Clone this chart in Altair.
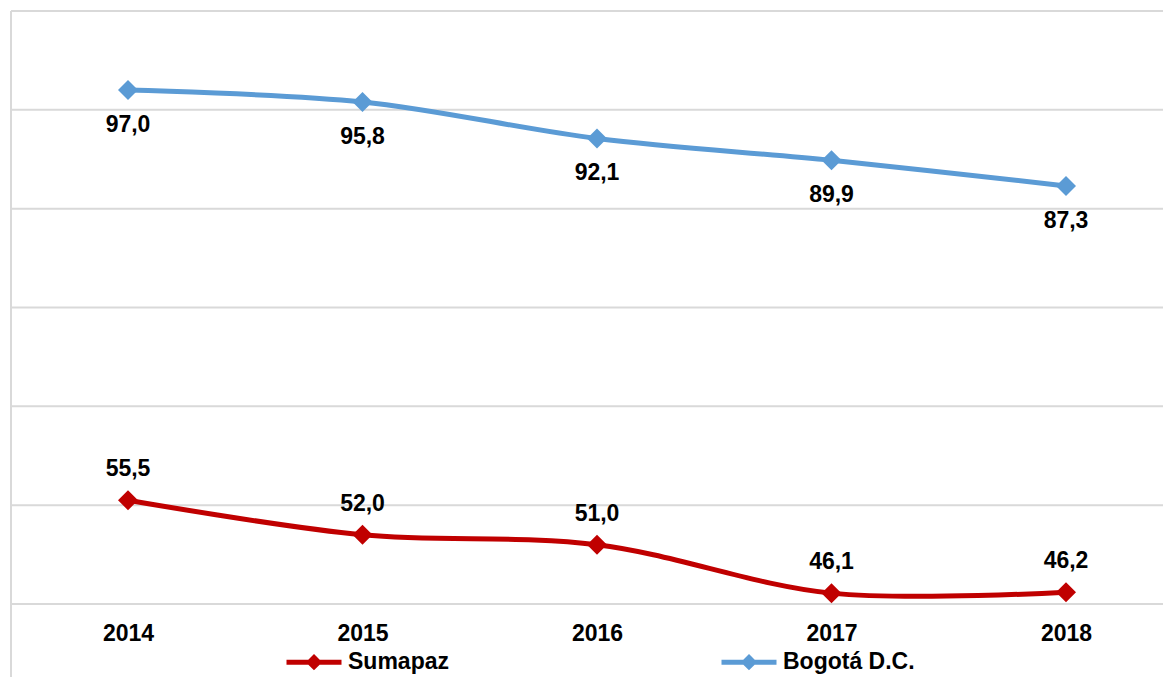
import altair as alt
import pandas as pd

years = ["2014", "2015", "2016", "2017", "2018"]
sumapaz = [55.5, 52.0, 51.0, 46.1, 46.2]
bogota = [97.0, 95.8, 92.1, 89.9, 87.3]
series_names = ["Sumapaz", "Bogotá D.C."]
series_colors = ["#C00000", "#5B9BD5"]
y_ticks = [45, 55, 65, 75, 85, 95, 105]

rows = []
for name, vals in zip(series_names, [sumapaz, bogota]):
    for yr, v in zip(years, vals):
        rows.append({"year": yr, "serie": name, "value": v})
df = pd.DataFrame(rows)
grid_df = pd.DataFrame({"tick": y_ticks})

FONT = "Liberation Sans"

x_enc = alt.X("year:O", sort=years, scale=alt.Scale(type="point", padding=0, range=[117, 1055]),
              axis=alt.Axis(title=None, labelAngle=0, labelFont=FONT, labelFontSize=23,
                            labelFontWeight="bold", labelColor="#000000", ticks=False,
                            tickSize=0, domain=False, grid=False, labelPadding=18))
y_scale = alt.Scale(domain=[45, 105], nice=False, zero=False)
y_enc = alt.Y("value:Q", scale=y_scale,
              axis=alt.Axis(title=None, labels=False, ticks=False, domain=False, grid=False))

legend = alt.Legend(title=None, orient="none", legendX=273, legendY=621, direction="horizontal",
                    symbolType="M-1,0L1,0M0,-0.17L0.17,0L0,0.17L-0.17,0Z", symbolSize=3025,
                    symbolStrokeWidth=5, labelFont=FONT, labelFontSize=23, labelFontWeight="bold",
                    labelColor="#000000", labelOffset=4, columnPadding=262, padding=0)
color_enc = alt.Color("serie:N", scale=alt.Scale(domain=series_names, range=series_colors),
                      sort=series_names, legend=legend)

base = alt.Chart(df)

grid = alt.Chart(grid_df).mark_rule(color="#D9D9D9", strokeWidth=2).encode(
    y=alt.Y("tick:Q", scale=y_scale, axis=None), x=alt.value(0), x2=alt.value(1160))
border = alt.Chart(pd.DataFrame({"a": [0]})).mark_rule(color="#D9D9D9", strokeWidth=2).encode(
    x=alt.value(0), y=alt.value(0), y2=alt.value(720))

lines = base.mark_line(interpolate="catmull-rom", strokeWidth=5).encode(
    x=x_enc, y=y_enc, color=color_enc)
points = base.mark_point(shape="diamond", filled=True, size=400, opacity=1).encode(
    x=x_enc, y=y_enc, color=color_enc)

lab = base.transform_calculate(label="replace(format(datum.value, '.1f'), '.', ',')")
text_below = lab.transform_filter(alt.datum.serie == "Bogotá D.C.").mark_text(
    font=FONT, fontSize=23, fontWeight="bold", color="#000000", baseline="middle", dy=35).encode(
    x=x_enc, y=y_enc, text="label:N")
text_above = lab.transform_filter(alt.datum.serie == "Sumapaz").mark_text(
    font=FONT, fontSize=23, fontWeight="bold", color="#000000", baseline="middle", dy=-31).encode(
    x=x_enc, y=y_enc, text="label:N")

chart = alt.layer(grid, border, lines, points, text_below, text_above).properties(
    width=1152, height=593,
    padding={"left": 3, "top": 3, "right": 0, "bottom": 73},
    autosize=alt.AutoSizeParams(type="none"),
).configure_view(stroke=None).configure(background="#FFFFFF")

chart.save("out.html", embed_options={"renderer": "svg", "actions": False})
